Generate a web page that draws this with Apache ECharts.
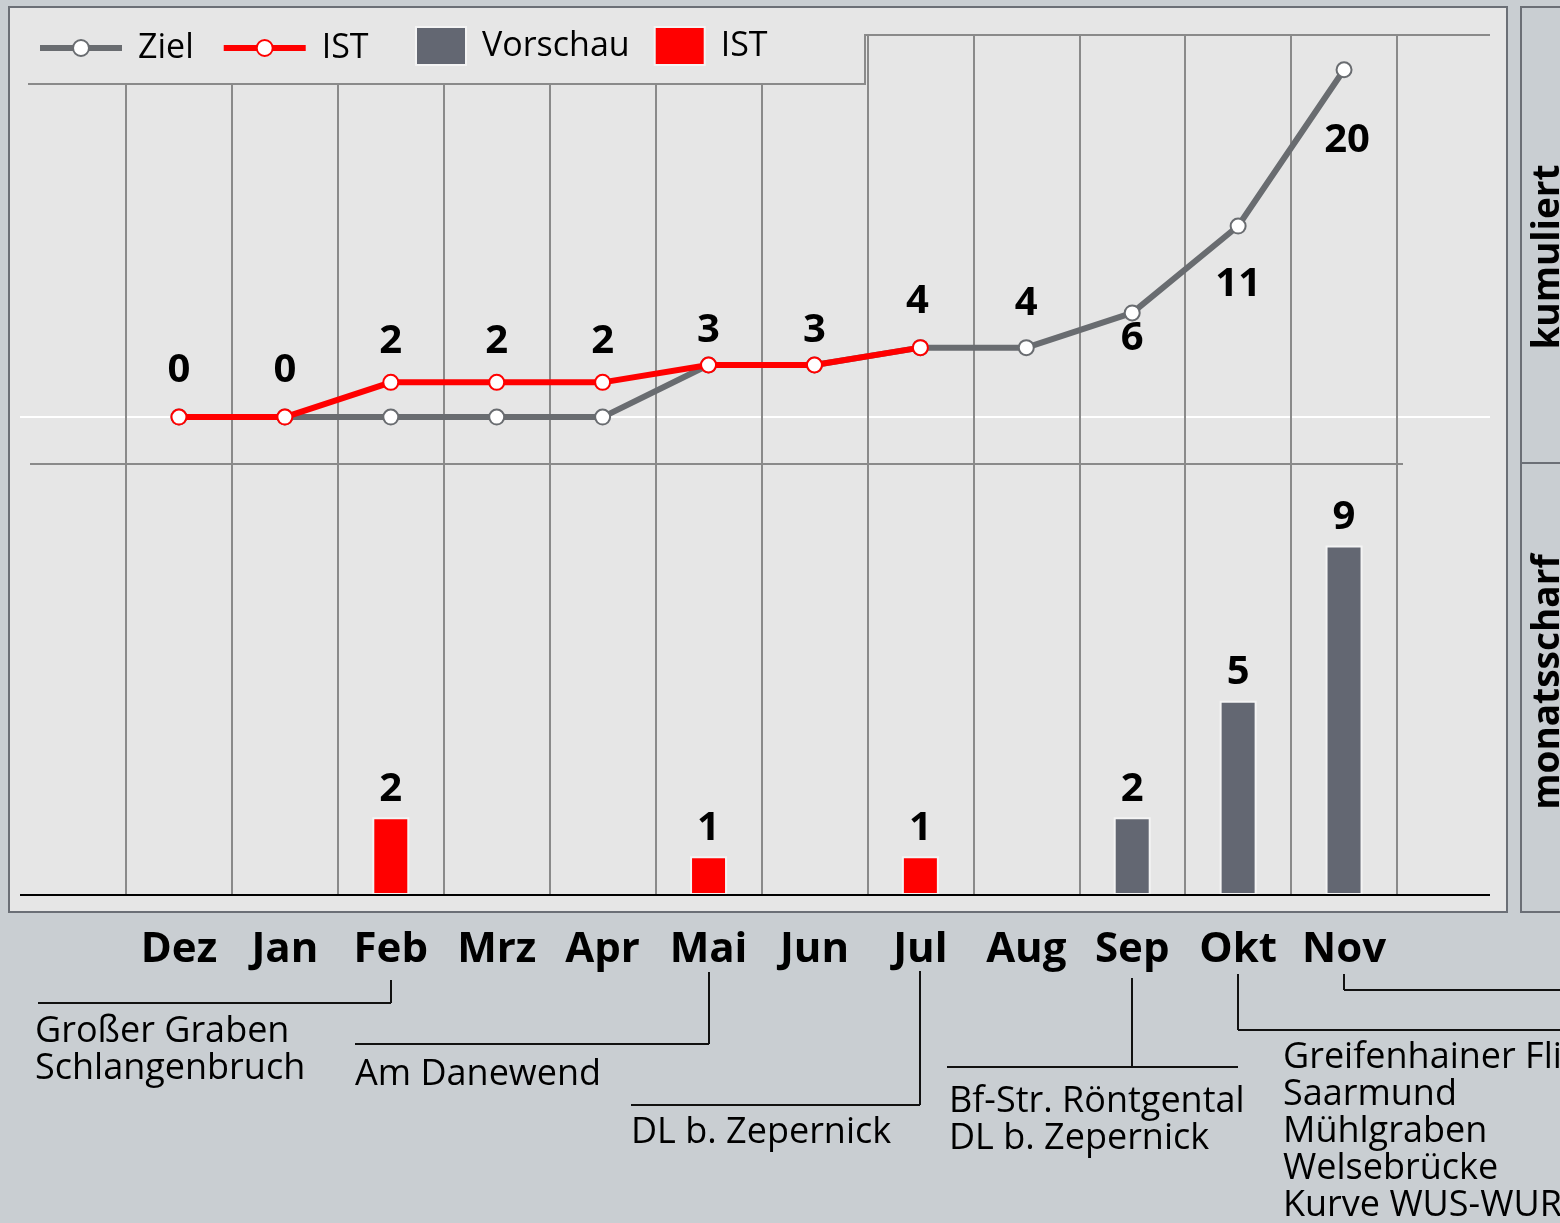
<!DOCTYPE html>
<html>
<head>
<meta charset="utf-8">
<script src="https://cdn.jsdelivr.net/npm/echarts@6/dist/echarts.min.js"></script>
<style>
html, body { margin: 0; padding: 0; background: #c9ced2; }
#main { width: 1560px; height: 1223px; }
</style>
</head>
<body>
<div id="main"></div>
<script>
// Monate
var months = ['Dez', 'Jan', 'Feb', 'Mrz', 'Apr', 'Mai', 'Jun', 'Jul', 'Aug', 'Sep', 'Okt', 'Nov'];
// kumulierte Werte
var zielKum = [0, 0, 0, 0, 0, 3, 3, 4, 4, 6, 11, 20];
var istKum = [0, 0, 2, 2, 2, 3, 3, 4, null, null, null, null];
// monatsscharfe Werte
var istMonat = [null, null, 2, null, null, 1, null, 1, null, null, null, null];
var vorschauMonat = [null, null, null, null, null, null, null, null, null, 2, 5, 9];
// Projekte je Monat
var hinweisMonate = ['Feb', 'Mai', 'Jul', 'Sep', 'Okt', 'Nov'];
var hinweisTexte = [
	['Großer Graben', 'Schlangenbruch'],
	['Am Danewend'],
	['DL b. Zepernick'],
	['Bf-Str. Röntgental', 'DL b. Zepernick'],
	['Greifenhainer Fließ', 'Saarmund', 'Mühlgraben', 'Welsebrücke', 'Kurve WUS-WUR'],
	[]
];

var FONT = 'Open Sans';
var GRID_LINE = '#8a8a8a';
var ZIEL_COLOR = '#696c70';
var IST_COLOR = '#ff0000';
var VORSCHAU_COLOR = '#636772';

// Summen fuer die Beschriftung der Kurve
var summe = 0;
var kumLabel = [];
for (var i = 0; i < months.length; i++) {
	summe += (istMonat[i] || 0) + (vorschauMonat[i] || 0);
	kumLabel.push(summe);
}
// Lage der Beschriftung relativ zum Punkt
var labelShift = [[0, -46], [0, -46], [0, -41], [0, -41], [0, -41], [0, -34], [0, -34],
	[-3, -46], [0, -44], [0, 26], [0, 59], [3, 71]];

var labelData = kumLabel.map(function(v, i) {
	return { value: v, label: { offset: labelShift[i] } };
});

function lineSeries(name, data, color, z) {
	return {
		name: name,
		type: 'line',
		xAxisIndex: 0,
		yAxisIndex: 0,
		data: data,
		z: z,
		symbol: 'circle',
		symbolSize: 15,
		showAllSymbol: true,
		lineStyle: { color: color, width: 6 },
		itemStyle: { color: '#ffffff', borderColor: color, borderWidth: 2 },
		emphasis: { disabled: true },
		silent: true
	};
}

function barSeries(name, data, color) {
	return {
		name: name,
		type: 'bar',
		xAxisIndex: 1,
		yAxisIndex: 1,
		stack: 'monat',
		data: data,
		barWidth: 37,
		itemStyle: { color: color, borderColor: '#f4f4f4', borderWidth: 2 },
		label: {
			show: true,
			position: 'top',
			distance: 8,
			color: '#000',
			fontFamily: FONT,
			fontWeight: 'bold',
			fontSize: 40
		},
		emphasis: { disabled: true },
		silent: true
	};
}

var chart = echarts.init(document.getElementById('main'));

var option = {
	backgroundColor: '#c9ced2',
	animation: false,
	legend: [{
		data: ['Ziel', 'IST'],
		left: 37,
		top: 31,
		padding: 0,
		itemWidth: 82,
		itemHeight: 20,
		itemGap: 27,
		selectedMode: false,
		lineStyle: { width: 6 },
		textStyle: { fontFamily: FONT, fontSize: 34, color: '#000', padding: [0, 0, 0, 11] }
	}, {
		data: [{ name: 'Vorschau', icon: 'rect' }, { name: 'IST ', icon: 'rect' }],
		left: 415,
		top: 26,
		padding: 0,
		itemWidth: 50,
		itemHeight: 38,
		itemGap: 24,
		selectedMode: false,
		textStyle: { fontFamily: FONT, fontSize: 34, color: '#000', padding: [0, 0, 0, 11] }
	}],
	grid: [
		{ left: 126, right: 163, top: 35, bottom: 759 },
		{ left: 126, right: 163, top: 464, bottom: 328 }
	],
	xAxis: [{
		type: 'category',
		gridIndex: 0,
		data: months,
		axisLine: { show: false },
		axisTick: { show: false, interval: 0 },
		axisLabel: { show: false, interval: 0 },
		splitLine: { show: true, interval: 0, lineStyle: { color: GRID_LINE, width: 2 } }
	}, {
		type: 'category',
		gridIndex: 1,
		data: months,
		axisLine: { show: false },
		axisTick: { show: false, interval: 0 },
		axisLabel: {
			interval: 0,
			margin: 34,
			color: '#000',
			fontFamily: FONT,
			fontWeight: 'bold',
			fontSize: 42,
			lineHeight: 42
		},
		splitLine: { show: true, interval: 0, lineStyle: { color: GRID_LINE, width: 2 } }
	}],
	yAxis: [{
		type: 'value',
		gridIndex: 0,
		min: -2.7,
		max: 22,
		show: false,
		splitLine: { show: false }
	}, {
		type: 'value',
		gridIndex: 1,
		min: 0,
		max: 11.1,
		show: false,
		splitLine: { show: false }
	}],
	series: [
		lineSeries('Ziel', zielKum, ZIEL_COLOR, 3),
		lineSeries('IST', istKum, IST_COLOR, 4),
		{
			name: 'kumuliert',
			type: 'line',
			xAxisIndex: 0,
			yAxisIndex: 0,
			data: labelData,
			z: 5,
			symbol: 'circle',
			symbolSize: 1,
			lineStyle: { width: 0, opacity: 0 },
			itemStyle: { color: 'rgba(0,0,0,0)' },
			label: {
				show: true,
				position: 'inside',
				color: '#000',
				fontFamily: FONT,
				fontWeight: 'bold',
				fontSize: 40
			},
			emphasis: { disabled: true },
			silent: true
		},
		barSeries('Vorschau', vorschauMonat, VORSCHAU_COLOR),
		barSeries('IST ', istMonat, IST_COLOR)
	]
};

chart.setOption(option);

// Rahmen, Nulllinie und Projekthinweise
var zeroY = chart.convertToPixel({ yAxisIndex: 0 }, 0);
var elements = [
	{ type: 'rect', z: -5, shape: { x: 9, y: 7, width: 1498, height: 905 },
		style: { fill: '#e6e6e6', stroke: '#6b6f76', lineWidth: 2 } },
	{ type: 'rect', z: -5, shape: { x: 1521, y: 7, width: 80, height: 456 },
		style: { fill: '#c9ced2', stroke: '#6b6f76', lineWidth: 2 } },
	{ type: 'rect', z: -5, shape: { x: 1521, y: 463, width: 80, height: 449 },
		style: { fill: '#c9ced2', stroke: '#6b6f76', lineWidth: 2 } },
	{ type: 'line', z: -4, shape: { x1: 20, y1: zeroY, x2: 1490, y2: zeroY },
		style: { stroke: '#ffffff', lineWidth: 2 } },
	// verdeckt die Gitterlinien oberhalb der Legende
	{ type: 'rect', z: 1, shape: { x: 12, y: 10, width: 852, height: 73 },
		style: { fill: '#e6e6e6' } },
	{ type: 'polyline', z: 1, shape: { points: [[28, 84], [865, 84], [865, 35], [1490, 35]] },
		style: { stroke: GRID_LINE, lineWidth: 2, fill: null } },
	{ type: 'line', z: 1, shape: { x1: 30, y1: 464, x2: 1403, y2: 464 },
		style: { stroke: GRID_LINE, lineWidth: 2 } },
	{ type: 'line', z: 6, shape: { x1: 20, y1: 895, x2: 1490, y2: 895 },
		style: { stroke: '#000', lineWidth: 2 } },
	{ type: 'text', z: 6, x: 1548, y: 257, rotation: Math.PI / 2,
		style: { text: 'kumuliert', font: 'bold 37px "Open Sans"', fill: '#000', align: 'center', verticalAlign: 'middle' } },
	{ type: 'text', z: 6, x: 1548, y: 682, rotation: Math.PI / 2,
		style: { text: 'monatsscharf', font: 'bold 37px "Open Sans"', fill: '#000', align: 'center', verticalAlign: 'middle' } }
];

// Lage der Hinweise: oberes Ende, Hoehe der Querlinie, Querlinie von/bis, Textposition
var hinweisLage = [
	{ top: 980, y: 1003, from: 38, to: null, tx: 35, ty: 1013 },
	{ top: 972, y: 1044, from: 355, to: null, tx: 355, ty: 1056 },
	{ top: 971, y: 1105, from: 631, to: null, tx: 631, ty: 1114 },
	{ top: 978, y: 1067, from: 947, to: 1238, tx: 949, ty: 1083 },
	{ top: 974, y: 1030, from: null, to: 1570, tx: 1283, ty: 1039 },
	{ top: 974, y: 990, from: null, to: 1570, tx: 0, ty: 0 }
];
for (var k = 0; k < hinweisMonate.length; k++) {
	var mx = Math.round(chart.convertToPixel({ xAxisIndex: 1 }, hinweisMonate[k]));
	var lage = hinweisLage[k];
	var x0 = lage.from === null ? mx : lage.from;
	var x1 = lage.to === null ? mx : lage.to;
	elements.push({ type: 'line', z: 6, shape: { x1: mx, y1: lage.top, x2: mx, y2: lage.y },
		style: { stroke: '#111', lineWidth: 2 } });
	elements.push({ type: 'line', z: 6, shape: { x1: x0, y1: lage.y, x2: x1, y2: lage.y },
		style: { stroke: '#111', lineWidth: 2 } });
	if (hinweisTexte[k].length) {
		elements.push({ type: 'text', z: 6, x: lage.tx, y: lage.ty,
			style: { text: hinweisTexte[k].join('\n'), font: '36px "Open Sans"', lineHeight: 37,
				fill: '#000', align: 'left', verticalAlign: 'top' } });
	}
}
chart.setOption({ graphic: { elements: elements } });
</script>
</body>
</html>
